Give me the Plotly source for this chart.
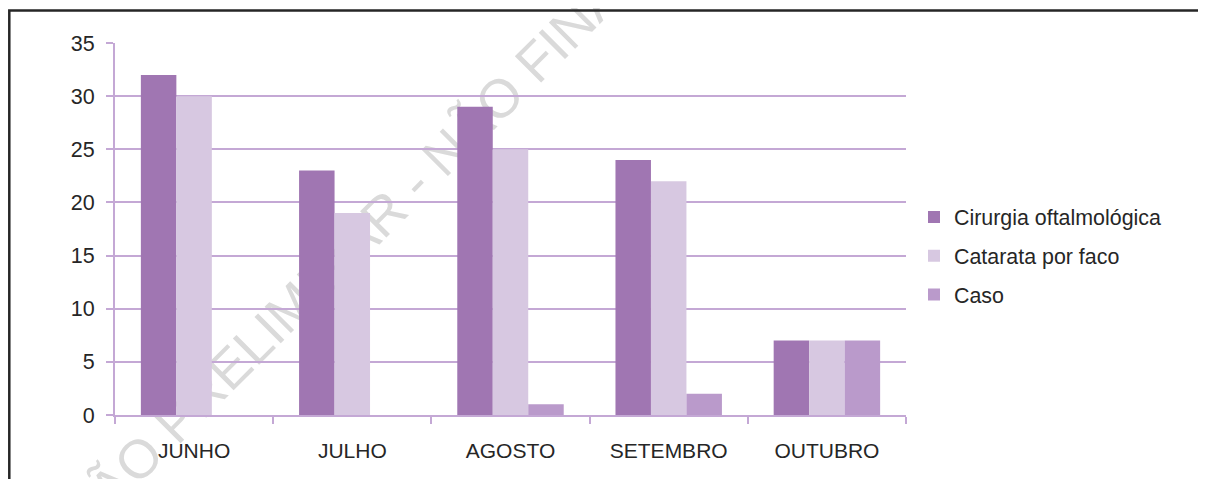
import plotly.graph_objects as go

months = ["JUNHO", "JULHO", "AGOSTO", "SETEMBRO", "OUTUBRO"]
cirurgia = [32, 23, 29, 24, 7]
catarata = [30, 19, 25, 22, 7]
caso = [0, 0, 1, 2, 7]

series_names = ["Cirurgia oftalmológica", "Catarata por faco", "Caso"]
series_colors = ["#A076B2", "#D7C8E1", "#BA9ACB"]
watermark = "VERSÃO PRELIMINAR - NÃO FINAL"

FONT = "Liberation Sans, Arial, sans-serif"
GRID = "#C4A8D5"
TXT = "#262626"

OFF = 8  # page body margin
W, H = 1206 - OFF, 479 - OFF
L, R, T, B = 107, 300, 35, 64
pw, ph = W - L - R, H - T - B

def px_x(px):  # page pixel -> paper
    return (px - OFF - L) / pw

def px_y(py):
    return (H - B - (py - OFF)) / ph

fig = go.Figure()
for i, (name, vals, col) in enumerate(zip(series_names, [cirurgia, catarata, caso], series_colors)):
    fig.add_trace(go.Bar(x=months, y=vals, name=name, marker=dict(color=col, line=dict(width=0)),
                         legendgroup=f"g{i}"))

fig.update_layout(
    width=W, height=H,
    margin=dict(l=L, r=R, t=T, b=B),
    paper_bgcolor="white", plot_bgcolor="rgba(0,0,0,0)",
    barmode="group", bargap=0.327, bargroupgap=0,
    font=dict(family=FONT, color=TXT, size=21),
    showlegend=True,
    legend=dict(x=px_x(914), xanchor="left", y=px_y(256), yanchor="middle",
                font=dict(size=21.4, color=TXT, family=FONT),
                traceorder="grouped", tracegroupgap=8, bgcolor="rgba(0,0,0,0)"),
    xaxis=dict(showline=True, linecolor=GRID, linewidth=2, ticks="outside", tickson="boundaries",
               ticklen=7, tickwidth=2, tickcolor=GRID, showgrid=False, ticklabelstandoff=16,
               tickfont=dict(size=21, color=TXT, family=FONT)),
    yaxis=dict(range=[0, 35], dtick=5, showgrid=True, gridcolor=GRID, gridwidth=2,
               showline=True, linecolor=GRID, linewidth=2, ticks="outside", ticklen=7,
               tickwidth=2, tickcolor=GRID, zeroline=False, ticklabelstandoff=7,
               tickfont=dict(size=21.5, color=TXT, family=FONT)),
)

# outer frame (left and top edges visible)
fx, fy = px_x(9.3), px_y(10.5)
fig.add_shape(type="path", xref="paper", yref="paper",
              path=f"M {fx},{px_y(500)} L {fx},{fy} L {px_x(1230)},{fy}",
              line=dict(color=TXT, width=2.5), layer="above")

# watermark (behind bars)
cx, cy = px_x(310), px_y(280)
fig.add_shape(type="rect", xref="paper", yref="paper",
              x0=cx - 0.01, x1=cx + 0.01, y0=cy - 0.01, y1=cy + 0.01,
              line=dict(width=0), fillcolor="rgba(0,0,0,0)", layer="below",
              label=dict(text=watermark, textangle=-45, textposition="middle center",
                         font=dict(size=54, color="#DADADA", family=FONT)))

fig.write_html("out.html")
